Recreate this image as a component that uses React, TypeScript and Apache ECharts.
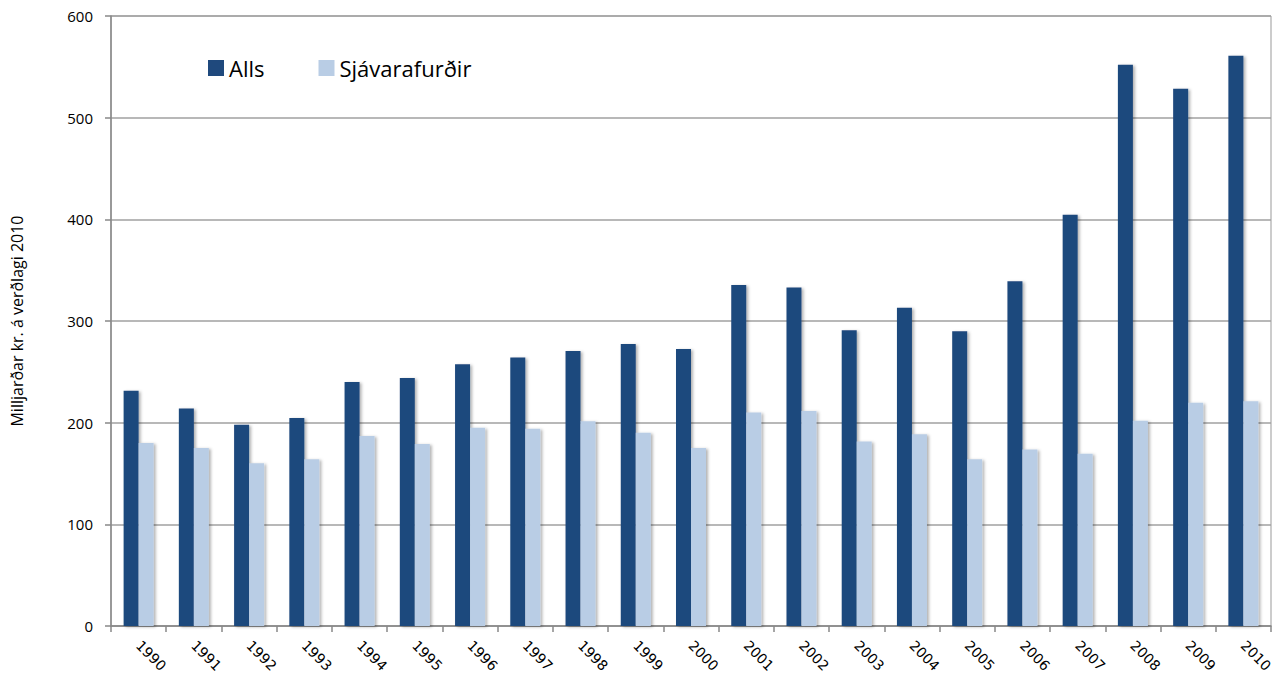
import React, { useEffect, useRef } from "react";
import * as echarts from "echarts";

const years = ["1990","1991","1992","1993","1994","1995","1996","1997","1998","1999","2000","2001","2002","2003","2004","2005","2006","2007","2008","2009","2010"];
const alls = [231.5, 214, 198, 204.5, 240, 244, 257.5, 264, 270.5, 277.5, 272.5, 335.5, 333, 291, 313, 290, 339, 404.5, 552, 528.5, 561];
const sjavarafurdir = [180, 175, 160, 164, 187, 179, 195, 194, 201.5, 190, 175, 210, 211.5, 181.5, 188.5, 164, 173.5, 169.5, 202, 219.5, 221];
const yTicks = { min: 0, max: 600, interval: 100 };

export default function App() {
  const ref = useRef<HTMLDivElement>(null);
  useEffect(() => {
    if (!ref.current) return;
    const chart = echarts.init(ref.current, undefined, { renderer: "svg" });
    const shadow = {
      shadowColor: "rgba(0,0,0,0.3)",
      shadowBlur: 3,
      shadowOffsetX: 2,
      shadowOffsetY: 1,
    };
    chart.setOption({
      animation: false,
      backgroundColor: "#ffffff",
      grid: {
        left: 111,
        right: 13,
        top: 16,
        bottom: 54,
        show: true,
        borderColor: "#999999",
        borderWidth: 1,
        backgroundColor: "transparent",
      },
      legend: {
        left: 203,
        top: 52,
        itemWidth: 16,
        itemHeight: 16,
        itemGap: 54,
        icon: "rect",
        textStyle: { fontFamily: "Open Sans", fontSize: 22, color: "#000000" },
        data: ["Alls", "Sjávarafurðir"],
      },
      xAxis: {
        type: "category",
        data: years,
        axisLine: { lineStyle: { color: "#888888", width: 1.5 } },
        axisTick: { show: true, length: 6, lineStyle: { color: "#888888", width: 1.5 } },
        axisLabel: {
          rotate: -45,
          fontFamily: "DejaVu Sans",
          fontSize: 14,
          color: "#000000",
          margin: 17,
        },
      },
      yAxis: {
        type: "value",
        min: yTicks.min,
        max: yTicks.max,
        interval: yTicks.interval,
        name: "Milljarðar kr. á verðlagi 2010",
        nameLocation: "middle",
        nameGap: 86,
        nameTextStyle: { fontFamily: "Open Sans", fontSize: 16, color: "#000000" },
        axisLine: { show: true, lineStyle: { color: "#888888", width: 1.5 } },
        axisTick: { show: true, length: 6, lineStyle: { color: "#888888", width: 1.5 } },
        axisLabel: { fontFamily: "Open Sans", fontSize: 15, color: "#000000", margin: 18 },
        splitLine: { show: true, lineStyle: { color: "#a0a0a0", width: 1.5 } },
      },
      series: [
        {
          name: "Alls",
          type: "bar",
          data: alls,
          barWidth: 15,
          barGap: "0%",
          itemStyle: { color: "#1f497d", ...shadow },
        },
        {
          name: "Sjávarafurðir",
          type: "bar",
          data: sjavarafurdir,
          barWidth: 15,
          itemStyle: { color: "#b9cde5", ...shadow },
        },
      ],
    });
    return () => chart.dispose();
  }, []);
  return (
    <div
      ref={ref}
      style={{ position: "absolute", left: 0, top: 0, width: 1284, height: 680 }}
    />
  );
}
